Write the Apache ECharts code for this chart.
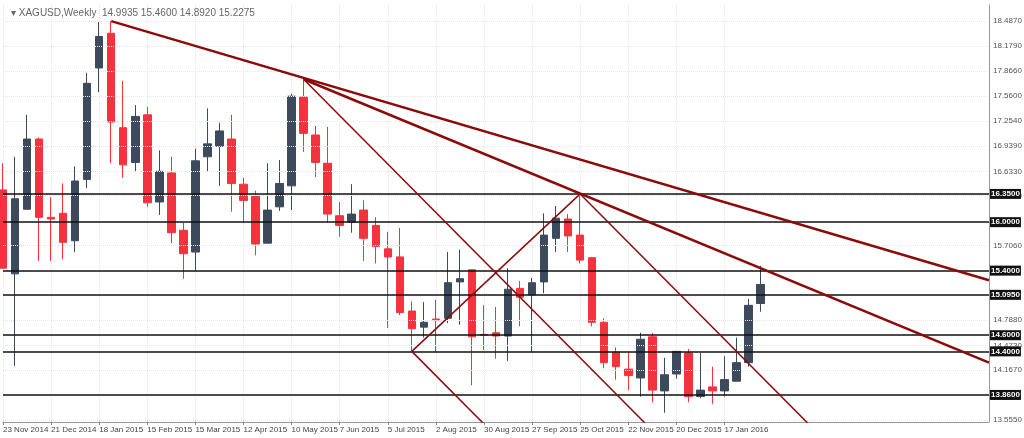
<!DOCTYPE html>
<html>
<head>
<meta charset="utf-8">
<script src="https://cdn.jsdelivr.net/npm/echarts@6/dist/echarts.min.js"></script>
<style>
  html, body { margin: 0; padding: 0; background: #fff; }
  #chart { width: 1024px; height: 438px; }
</style>
</head>
<body>
<div id="chart"></div>
<script>
// weekly XAGUSD candles, 23 Nov 2014 .. 7 Feb 2016
var opens  = [16.40,15.36,16.16,17.03,16.06,16.11,15.77,16.53,17.91,18.34,17.17,16.74,17.33,16.25,16.61,15.90,
              15.63,16.81,16.94,17.03,16.47,16.32,15.74,16.19,16.45,17.55,17.08,16.73,16.08,16.00,16.15,15.96,
              15.67,15.57,14.90,14.70,14.80,14.81,15.26,15.41,14.61,14.63,14.59,15.18,15.10,15.26,15.80,16.04,
              15.84,15.56,14.76,14.39,14.18,14.07,14.58,13.91,14.12,14.38,13.84,13.96,13.91,14.03,14.26,14.9935];
var closes = [15.43,16.29,17.03,16.06,16.04,15.75,16.51,17.72,18.30,17.24,16.71,17.31,16.24,16.63,15.87,15.61,
              16.76,16.97,17.13,16.48,16.27,15.73,16.15,16.48,17.56,17.10,16.74,16.10,15.96,16.10,15.80,15.70,
              15.57,14.88,14.68,14.76,14.79,15.25,15.30,14.58,14.60,14.59,15.17,15.07,15.25,15.84,16.05,15.83,
              15.53,14.76,14.26,14.21,14.10,14.55,13.92,14.11,14.40,13.84,13.92,13.91,14.05,14.26,14.97,15.2275];
var lows   = [15.43,14.22,16.16,15.52,15.52,15.54,15.63,16.42,17.61,16.73,16.55,16.62,16.19,16.09,15.74,15.30,
              15.40,16.62,16.45,16.13,15.99,15.59,15.74,16.14,16.15,16.87,16.56,15.99,15.82,15.87,15.52,15.49,
              14.69,14.85,14.40,14.57,14.39,14.75,14.73,13.98,14.42,14.31,14.28,14.71,14.39,15.12,15.63,15.63,
              15.49,14.71,14.19,14.05,13.92,13.84,13.77,13.64,14.06,13.77,13.82,13.75,13.84,14.03,14.21,14.892];
var highs  = [16.73,16.81,17.33,17.05,16.31,16.48,16.69,17.85,18.48,18.49,17.75,17.45,17.43,16.89,16.81,15.99,
              16.91,17.41,17.23,17.33,16.55,16.39,16.73,16.77,17.59,17.77,17.19,17.18,16.25,16.47,16.27,16.06,
              15.88,15.93,15.02,15.01,15.04,15.63,15.66,15.41,14.97,14.95,15.43,15.27,15.31,16.11,16.20,16.10,
              16.35,15.57,14.81,14.45,14.39,14.63,14.63,14.32,14.40,14.43,14.38,14.21,14.34,14.57,15.05,15.46];

// date labels every 4 weeks (category index -> text)
var labelIdx  = [0,4,8,12,16,20,24,28,32,36,40,44,48,52,56,60];
var labelText = ['23 Nov 2014','21 Dec 2014','18 Jan 2015','15 Feb 2015','15 Mar 2015','12 Apr 2015',
                 '10 May 2015','7 Jun 2015','5 Jul 2015','2 Aug 2015','30 Aug 2015','27 Sep 2015',
                 '25 Oct 2015','22 Nov 2015','20 Dec 2015','17 Jan 2016'];

// horizontal support / resistance levels
var levels = [16.35, 16.00, 15.40, 15.095, 14.60, 14.40, 13.86];
// right axis price scale labels
var priceTicks = [18.487, 18.179, 17.866, 17.560, 17.254, 16.939, 16.633, 16.327, 15.706, 14.788, 14.473, 14.167, 13.555];
var lastPrice = 15.2275;

// trend lines: [startIdx, startPrice, endIdx, endPrice]
var trendThick = [[9, 18.49, 82, 15.28], [25, 17.77, 82, 14.26]];
var trendThin  = [[25, 17.77, 58, 12.82], [34, 14.40, 48, 16.35], [34, 14.40, 42, 13.20], [48, 16.35, 70, 13.05]];

var nCats = 83;
var cats = [];
for (var i = 0; i < nCats; i++) {
  var k = labelIdx.indexOf(i);
  cats.push(k >= 0 ? labelText[k] : '');
}
var candles = [];
for (var i = 0; i < opens.length; i++) candles.push([opens[i], closes[i], lows[i], highs[i]]);

function isLabel(idx) { return labelIdx.indexOf(idx) >= 0; }

var font = 'Liberation Sans';
var series = [{
  type: 'candlestick',
  data: candles,
  barWidth: 8,
  itemStyle: { color: '#3d4a5c', color0: '#f5333f', borderColor: '#3d4a5c', borderColor0: '#f5333f', borderWidth: 1 },
  markLine: {
    symbol: 'none', silent: true, animation: false,
    data: priceTicks.map(function (p) {
      return { yAxis: p, lineStyle: { color: '#e6e6e6', type: 'dotted', width: 1 },
        label: { show: true, position: 'end', formatter: p.toFixed(4), color: '#555', fontSize: 8, fontFamily: font, distance: 4 } };
    }).concat(levels.map(function (p) {
      return { yAxis: p, lineStyle: { color: '#111', type: 'solid', width: 1.5 },
        label: { show: true, position: 'end', formatter: p.toFixed(4), color: '#fff', backgroundColor: '#111',
          fontSize: 8, fontFamily: font, fontWeight: 'bold', padding: [1, 1], distance: 1 } };
    })).concat([{ yAxis: lastPrice, lineStyle: { opacity: 0 },
      label: { show: true, position: 'end', formatter: lastPrice.toFixed(4), color: '#fff', backgroundColor: '#6b7580',
        fontSize: 8, fontFamily: font, padding: [1, 1], distance: 1 } }])
  }
}];

function addTrend(t, w) {
  series.push({ type: 'line', data: [[t[0], t[1]], [t[2], t[3]]], symbol: 'none', silent: true,
    lineStyle: { color: '#8b0a0a', width: w }, z: 5, animation: false });
}
trendThick.forEach(function (t) { addTrend(t, 2.5); });
trendThin.forEach(function (t) { addTrend(t, 1.5); });

var chart = echarts.init(document.getElementById('chart'));
chart.setOption({
  animation: false,
  title: {
    text: '▾ XAGUSD,Weekly  14.9935 15.4600 14.8920 15.2275',
    left: 6, top: 3,
    textStyle: { fontSize: 10, fontWeight: 'normal', color: '#666', fontFamily: font }
  },
  grid: { left: 2, right: 35, top: 5, bottom: 16 },
  xAxis: {
    type: 'category', data: cats, boundaryGap: false,
    axisLine: { lineStyle: { color: '#999' } },
    axisTick: { interval: function (i) { return isLabel(i); }, length: 3, lineStyle: { color: '#888' } },
    axisLabel: { interval: function (i) { return isLabel(i); }, align: 'left', margin: 4, showMinLabel: true,
      hideOverlap: false, fontSize: 8, color: '#444', fontFamily: font },
    splitLine: { show: true, interval: function (i) { return isLabel(i); },
      lineStyle: { color: '#e6e6e6', type: 'dotted' } }
  },
  yAxis: {
    type: 'value', position: 'right', scale: true, min: 13.525, max: 18.69,
    axisLine: { show: true, lineStyle: { color: '#999' } },
    axisLabel: { show: false }, axisTick: { show: false }, splitLine: { show: false }
  },
  series: series
});
</script>
</body>
</html>
